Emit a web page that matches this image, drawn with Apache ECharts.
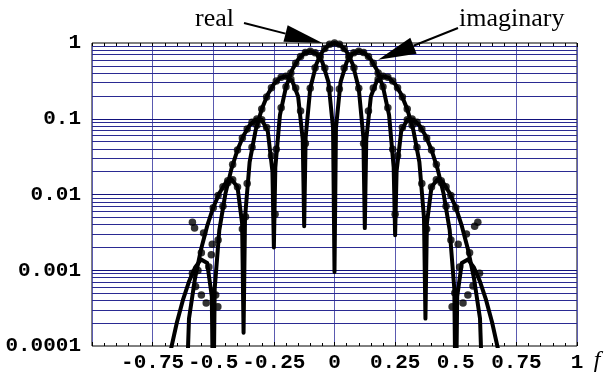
<!DOCTYPE html>
<html>
<head>
<meta charset="utf-8">
<script src="https://cdn.jsdelivr.net/npm/echarts@6/dist/echarts.min.js"></script>
<style>
  html, body { margin: 0; padding: 0; background: #fff; }
  #chart { width: 605px; height: 381px; }
</style>
</head>
<body>
<div id="chart"></div>
<script>
// Spectrum magnitude of a shifted Gaussian pulse: |real| and |imaginary| parts
// (continuous curves) together with the sampled spectrum (dots), log scale.

// ---- continuous curve: |real part| ----
const reLineF = [-0.7, -0.675, -0.65, -0.625, -0.6, -0.575, -0.55, -0.525, -0.5, -0.475, -0.45, -0.425, -0.4,
  -0.381, -0.375, -0.369, -0.35, -0.325, -0.3, -0.275, -0.25, -0.225, -0.2, -0.175, -0.15,
  -0.131, -0.125, -0.119, -0.1, -0.075, -0.05, -0.025, 0, 0.025, 0.05, 0.075, 0.1,
  0.119, 0.125, 0.131, 0.15, 0.175, 0.2, 0.225, 0.25, 0.275, 0.3, 0.325, 0.35,
  0.369, 0.375, 0.381, 0.4, 0.425, 0.45, 0.475, 0.5, 0.525, 0.55, 0.575, 0.6, 0.625, 0.65, 0.675, 0.7];
const reLineV = [0.0000449, 0.0000647, 0.0000661, 0.000001, 0.000231, 0.000789, 0.00191, 0.00384, 0.00674, 0.0104, 0.0141, 0.0159, 0.0126,
  0.00413, 0.00015, 0.00494, 0.0267, 0.0711, 0.134, 0.210, 0.287, 0.346, 0.364, 0.319, 0.197,
  0.0534, 0.0038, 0.0567, 0.253, 0.525, 0.770, 0.939, 1, 0.939, 0.770, 0.525, 0.253,
  0.0567, 0.0036, 0.0534, 0.197, 0.319, 0.364, 0.346, 0.287, 0.210, 0.134, 0.0711, 0.0267,
  0.00494, 0.00023, 0.00413, 0.0126, 0.0159, 0.0141, 0.0104, 0.00674, 0.00384, 0.00191, 0.000789, 0.000231, 0.000001, 0.0000661, 0.0000647, 0.0000449];

// ---- continuous curve: |imaginary part| ----
const imLineF = [-0.7, -0.675, -0.65, -0.625, -0.6, -0.575, -0.55, -0.525, -0.506, -0.5, -0.494, -0.475, -0.45, -0.425, -0.4,
  -0.375, -0.35, -0.325, -0.3, -0.275, -0.256, -0.25, -0.244, -0.225, -0.2, -0.175, -0.15, -0.125, -0.1,
  -0.075, -0.05, -0.025, -0.006, 0, 0.006, 0.025, 0.05, 0.075,
  0.1, 0.125, 0.15, 0.175, 0.2, 0.225, 0.244, 0.25, 0.256, 0.275, 0.3, 0.325, 0.35, 0.375,
  0.4, 0.425, 0.45, 0.475, 0.494, 0.5, 0.506, 0.525, 0.55, 0.575, 0.6, 0.625, 0.65, 0.675, 0.7];
const imLineV = [0.0000326, 0.000089, 0.000204, 0.000405, 0.00071, 0.00109, 0.00139, 0.00125, 0.00045, 0.00001, 0.000572, 0.00339, 0.0102, 0.0218, 0.0388,
  0.0601, 0.0821, 0.0978, 0.0972, 0.0681, 0.0203, 0.0020, 0.0229, 0.112, 0.264, 0.439, 0.606, 0.732, 0.779,
  0.723, 0.559, 0.305, 0.0753, 0.00095, 0.0753, 0.305, 0.559, 0.723,
  0.779, 0.732, 0.606, 0.439, 0.264, 0.112, 0.0229, 0.0029, 0.0203, 0.0681, 0.0972, 0.0978, 0.0821, 0.0601,
  0.0388, 0.0218, 0.0102, 0.00339, 0.000572, 0.00001, 0.00045, 0.00125, 0.00139, 0.00109, 0.00071, 0.000405, 0.000204, 0.000089, 0.0000326];

// ---- sampled spectrum: real part ----
const reDotF = [-0.5, -0.48, -0.46, -0.44, -0.42, -0.4, -0.38, -0.36, -0.34, -0.32, -0.3, -0.28, -0.26,
  -0.24, -0.22, -0.2, -0.18, -0.16, -0.14, -0.12, -0.1, -0.08, -0.06, -0.04, -0.02, 0,
  0.02, 0.04, 0.06, 0.08, 0.1, 0.12, 0.14, 0.16, 0.18, 0.2, 0.22, 0.24,
  0.26, 0.28, 0.3, 0.32, 0.34, 0.36, 0.38, 0.4, 0.42, 0.44, 0.46, 0.48, 0.5];
const reDotV = [0.0067, 0.0097, 0.0127, 0.0152, 0.0157, 0.0126, 0.0035, 0.0140, 0.0422, 0.0822, 0.134, 0.194, 0.257,
  0.314, 0.353, 0.364, 0.333, 0.255, 0.127, 0.0471, 0.253, 0.471, 0.678, 0.849, 0.961, 1,
  0.961, 0.849, 0.678, 0.471, 0.253, 0.0471, 0.127, 0.255, 0.333, 0.364, 0.353, 0.314,
  0.257, 0.194, 0.134, 0.0822, 0.0422, 0.0140, 0.0035, 0.0126, 0.0157, 0.0152, 0.0127, 0.0097, 0.0067];

// ---- sampled spectrum: imaginary part ----
const imDotF = [-0.48, -0.46, -0.44, -0.42, -0.4, -0.38, -0.36, -0.34, -0.32, -0.3, -0.28, -0.26,
  -0.24, -0.22, -0.2, -0.18, -0.16, -0.14, -0.12, -0.1, -0.08, -0.06, -0.04, -0.02,
  0.02, 0.04, 0.06, 0.08, 0.1, 0.12, 0.14, 0.16, 0.18, 0.2, 0.22, 0.24,
  0.26, 0.28, 0.3, 0.32, 0.34, 0.36, 0.38, 0.4, 0.42, 0.44, 0.46, 0.48];
const imDotV = [0.0025, 0.0070, 0.0143, 0.0248, 0.0388, 0.0556, 0.0735, 0.0896, 0.0994, 0.0972, 0.0767, 0.0324,
  0.0396, 0.140, 0.264, 0.403, 0.542, 0.664, 0.748, 0.779, 0.743, 0.637, 0.467, 0.247,
  0.247, 0.467, 0.637, 0.743, 0.779, 0.748, 0.664, 0.542, 0.403, 0.264, 0.140, 0.0396,
  0.0324, 0.0767, 0.0972, 0.0994, 0.0896, 0.0735, 0.0556, 0.0388, 0.0248, 0.0143, 0.0070, 0.0025];

// ---- sampled spectrum: leakage floor near the zeros and in the tails ----
const floorF = [-0.586, -0.586, -0.577, -0.573, -0.563, -0.549, -0.549, -0.540, -0.529, -0.518, -0.508, -0.504, -0.49, -0.481,
  -0.367, -0.245, 0.25,
  0.485, 0.496, 0.51, 0.516, 0.53, 0.544, 0.55, 0.557, 0.571, 0.578, 0.591, 0.598];
const floorV = [0.0043, 0.00091, 0.0036, 0.00061, 0.00099, 0.0017, 0.00047, 0.0031, 0.00037, 0.0011, 0.0016, 0.0022, 0.00047, 0.00033,
  0.0051, 0.0055, 0.0055,
  0.00033, 0.0005, 0.0022, 0.0011, 0.00037, 0.003, 0.00047, 0.0017, 0.00062, 0.0038, 0.0043, 0.00091];

// ---- tick labels ----
const xTickVals = [-0.75, -0.5, -0.25, 0, 0.25, 0.5, 0.75, 1];
const xTickText = ['-0.75', '-0.5', '-0.25', '0', '0.25', '0.5', '0.75', '1'];
const yTickVals = [0.0001, 0.001, 0.01, 0.1, 1];
const yTickText = ['0.0001', '0.001', '0.01', '0.1', '1'];

const zip = (a, b) => a.map((v, i) => [v, b[i]]);

function lookup(vals, texts, v, rel) {
  for (let i = 0; i < vals.length; i++) {
    const d = Math.abs(vals[i] - v);
    if (rel ? d <= Math.abs(vals[i]) * 1e-6 : d < 1e-9) return texts[i];
  }
  return '';
}

// Horizontal log grid: 2..9 x each decade, plus the inner decade lines
const minorLevels = [];
const decadeLevels = [];
for (let e = -4; e <= -1; e++) {
  for (let m = 2; m <= 9; m++) minorLevels.push(m * Math.pow(10, e));
  if (e > -4) decadeLevels.push(Math.pow(10, e));
}
const gridSeries = (levels, color) => ({
  type: 'lines', coordinateSystem: 'cartesian2d', polyline: false, silent: true, z: 1,
  lineStyle: { color: color, width: 1, opacity: 1, type: 'solid' },
  data: levels.map(v => ({ coords: [[-1, v], [1, v]] }))
});

const monoLabel = { fontFamily: 'Liberation Mono', fontWeight: 'bold', fontSize: 21, color: '#000' };
const tickCommon = {
  axisLine: { show: false },
  axisTick: { show: true, inside: true, length: 4, lineStyle: { color: '#000', width: 1 } },
  minorTick: { show: true, splitNumber: 5, length: 3, lineStyle: { color: '#000', width: 1 } }
};

const chart = echarts.init(document.getElementById('chart'), null, { renderer: 'canvas' });

const lineStyle = { color: '#000', width: 4, cap: 'round', join: 'round' };
const dotStyle = { color: '#000' };
const dotSize = 7.5;

chart.setOption({
  animation: false,
  grid: { left: 92, right: 28, top: 43, bottom: 35, show: true, borderColor: '#000', borderWidth: 1,
          backgroundColor: 'transparent' },
  xAxis: [
    Object.assign({
      type: 'value', min: -1, max: 1, interval: 0.25, position: 'bottom',
      splitLine: { show: true, lineStyle: { color: '#5a5ab0', width: 1 } },
      axisLabel: Object.assign({}, monoLabel, {
        margin: 6,
        formatter: v => lookup(xTickVals, xTickText, v, false)
      })
    }, tickCommon),
    Object.assign({
      type: 'value', min: -1, max: 1, interval: 0.25, position: 'top',
      splitLine: { show: false },
      axisLabel: { show: false }
    }, tickCommon)
  ],
  yAxis: {
    type: 'log', logBase: 10, min: 0.0001, max: 1,
    axisLine: { show: false },
    axisTick: { show: false },
    splitLine: { show: false },
    axisLabel: Object.assign({}, monoLabel, {
      margin: 11,
      formatter: v => lookup(yTickVals, yTickText, v, true)
    })
  },
  series: [
    gridSeries(minorLevels, '#2a2a92'),
    gridSeries(decadeLevels, '#12127c'),
    { name: 'real', type: 'line', data: zip(reLineF, reLineV), showSymbol: false, silent: true,
      lineStyle: lineStyle, z: 3, clip: true },
    { name: 'imaginary', type: 'line', data: zip(imLineF, imLineV), showSymbol: false, silent: true,
      lineStyle: lineStyle, z: 3, clip: true },
    { type: 'scatter', data: zip(reDotF, reDotV), symbolSize: dotSize, itemStyle: dotStyle, z: 4, silent: true },
    { type: 'scatter', data: zip(imDotF, imDotV), symbolSize: dotSize, itemStyle: dotStyle, z: 4, silent: true },
    { type: 'scatter', data: zip(floorF, floorV), symbolSize: dotSize, itemStyle: dotStyle, z: 4, silent: true }
  ]
});

// Callout arrows pointing at the two curves
function arrow(tail, tip, headLen, headW) {
  const dx = tip[0] - tail[0], dy = tip[1] - tail[1];
  const len = Math.sqrt(dx * dx + dy * dy);
  const ux = dx / len, uy = dy / len;
  const bx = tip[0] - ux * headLen, by = tip[1] - uy * headLen;
  const px = -uy * headW / 2, py = ux * headW / 2;
  return [
    { type: 'line', silent: true, z: 10,
      shape: { x1: tail[0], y1: tail[1], x2: bx, y2: by },
      style: { stroke: '#000', lineWidth: 2 } },
    { type: 'polygon', silent: true, z: 10,
      shape: { points: [[tip[0], tip[1]], [bx + px, by + py], [bx - px, by - py]] },
      style: { fill: '#000' } }
  ];
}

const realTip = chart.convertToPixel({ seriesIndex: 2 }, [-0.05, 1.0]);
const imagTip = chart.convertToPixel({ seriesIndex: 3 }, [0.18, 0.6]);

const serif = 'Liberation Serif';
chart.setOption({
  graphic: [
    { type: 'text', x: 195, y: 19, silent: true, z: 10,
      style: { text: 'real', font: '26px "' + serif + '"', fill: '#000', align: 'left', verticalAlign: 'middle' } },
    { type: 'text', x: 459, y: 19, silent: true, z: 10,
      style: { text: 'imaginary', font: '26px "' + serif + '"', fill: '#000', align: 'left', verticalAlign: 'middle' } },
    { type: 'text', x: 597, y: 361, silent: true, z: 10,
      style: { text: 'f', font: 'italic 24px "' + serif + '"', fill: '#000', align: 'center', verticalAlign: 'middle' } }
  ].concat(arrow([244, 23], realTip, 38, 17), arrow([458, 28], imagTip, 38, 17))
});
</script>
</body>
</html>
